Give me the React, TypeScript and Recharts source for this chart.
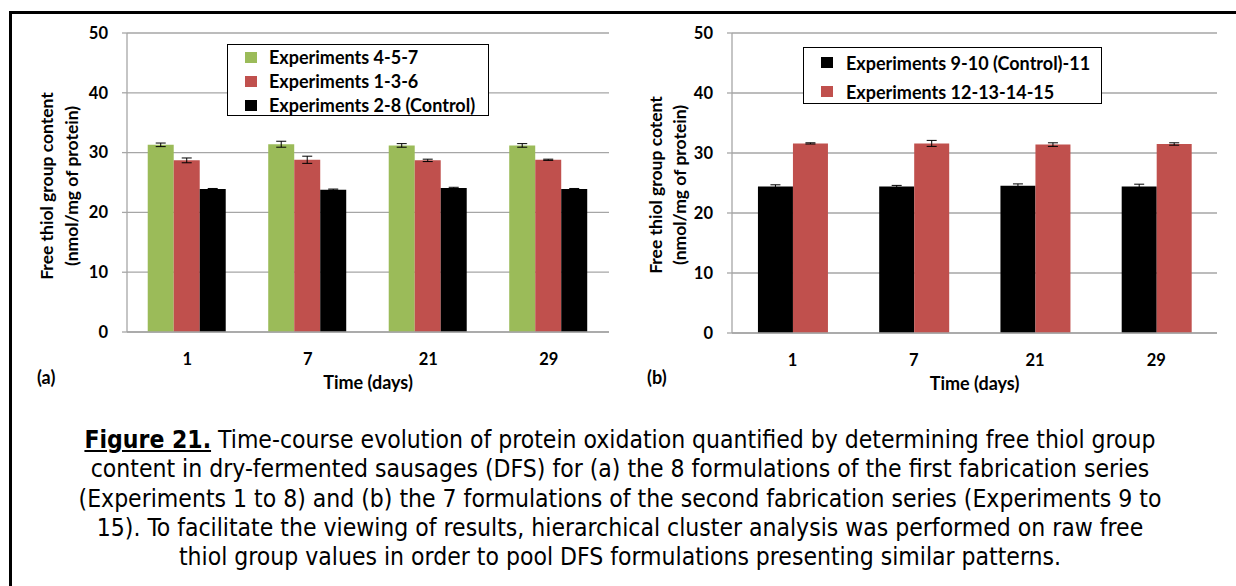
import { BarChart, Bar, XAxis, YAxis, CartesianGrid, ErrorBar } from "recharts";

const days = ["1", "7", "21", "29"];

// panel (a)
const exp457 = [31.3, 31.4, 31.2, 31.2];
const exp457Err = [0.3, 0.5, 0.3, 0.3];
const exp136 = [28.7, 28.8, 28.7, 28.8];
const exp136Err = [0.4, 0.6, 0.2, 0.1];
const exp28 = [23.9, 23.8, 24.1, 23.9];
const exp28Err = [0.1, 0.1, 0.1, 0.1];

// panel (b)
const exp91011 = [24.4, 24.4, 24.55, 24.4];
const exp91011Err = [0.3, 0.2, 0.3, 0.4];
const exp12to15 = [31.6, 31.6, 31.4, 31.5];
const exp12to15Err = [0.1, 0.5, 0.3, 0.2];

const yTicks = [0, 10, 20, 30, 40, 50];

const captionLines = [
  "Time-course evolution of protein oxidation quantified by determining free thiol group",
  "content in dry-fermented sausages (DFS) for (a) the 8 formulations of the first fabrication series",
  "(Experiments 1 to 8) and (b) the 7 formulations of the second fabrication series (Experiments 9 to",
  "15). To facilitate the viewing of results, hierarchical cluster analysis was performed on raw free",
  "thiol group values in order to pool DFS formulations presenting similar patterns.",
];

const GREEN = "#9bbb59";
const RED = "#c0504d";
const BLACK = "#000000";
const GRID = "#a6a6a6";
const FONT = "Lato, 'Liberation Sans', sans-serif";

const dataA = days.map((d, i) => ({
  day: d,
  g: exp457[i], gErr: exp457Err[i],
  r: exp136[i], rErr: exp136Err[i],
  k: exp28[i], kErr: exp28Err[i],
}));

const dataB = days.map((d, i) => ({
  day: d,
  k: exp91011[i], kErr: exp91011Err[i],
  r: exp12to15[i], rErr: exp12to15Err[i],
}));

const tickStyle = { fontFamily: FONT, fontWeight: 700, fontSize: 16.5, fill: "#000" };
const labelStyle = { fontFamily: FONT, fontWeight: 700, fontSize: 18, fill: "#000" };

function yLabel(x1: number, x2: number, cy: number, line1: string) {
  const st = { ...labelStyle, fontSize: 17.5 };
  return () => (
    <g>
      <text x={x1} y={cy} transform={`rotate(-90 ${x1} ${cy})`} textAnchor="middle" dominantBaseline="central"
        style={st}>{line1}</text>
      <text x={x2} y={cy} transform={`rotate(-90 ${x2} ${cy})`} textAnchor="middle" dominantBaseline="central"
        style={st}>(nmol/mg of protein)</text>
    </g>
  );
}

function LegendBox({ items, left, top, w, h, pl, gap, rowH }: any) {
  return (
    <div style={{
      position: "absolute", left, top, width: w, height: h, border: "1px solid #000", boxSizing: "border-box",
      background: "#fff", fontFamily: FONT, fontWeight: 700, fontSize: 18,
    }}>
      {items.map((it: any) => (
        <div key={it.label} style={{ display: "flex", alignItems: "center", height: rowH, paddingLeft: pl, whiteSpace: "nowrap" }}>
          <span style={{ display: "inline-block", width: 12, height: 11, background: it.color, marginRight: gap }} />
          <span>{it.label}</span>
        </div>
      ))}
    </div>
  );
}

export default function App() {
  return (
    <div style={{ position: "absolute", left: 0, top: 0, width: 1236, height: 586, overflow: "hidden", background: "#fff" }}>
      <div style={{ position: "absolute", left: 9, top: 11, width: 1240, height: 620, border: "3px solid #000", boxSizing: "border-box" }} />

      {/* panel (a) */}
      <div style={{ position: "absolute", left: 0, top: 0 }}>
        <BarChart width={620} height={400} data={dataA} margin={{ top: 33, right: 11, bottom: 38, left: 67 }}
          barGap={0} barCategoryGap="17.2%">
          <CartesianGrid vertical={false} stroke={GRID} strokeWidth={1.3} />
          <XAxis dataKey="day" height={30} tick={tickStyle} tickLine={false} axisLine={{ stroke: GRID, strokeWidth: 1.3 }}
            tickMargin={15}
            label={{ value: "Time (days)", position: "insideBottom", offset: -27, style: labelStyle }} />
          <YAxis width={60} domain={[0, 50]} ticks={yTicks} tick={tickStyle} tickSize={5} tickMargin={14}
            tickLine={{ stroke: GRID, strokeWidth: 1.3 }} axisLine={{ stroke: GRID, strokeWidth: 1.3 }}
            label={{ content: yLabel(46, 71, 186, "Free thiol group content") }} />
          <Bar dataKey="g" fill={GREEN} isAnimationActive={false}>
            <ErrorBar dataKey="gErr" width={5} stroke="#000" strokeWidth={1} direction="y" />
          </Bar>
          <Bar dataKey="r" fill={RED} isAnimationActive={false}>
            <ErrorBar dataKey="rErr" width={5} stroke="#000" strokeWidth={1} direction="y" />
          </Bar>
          <Bar dataKey="k" fill={BLACK} isAnimationActive={false}>
            <ErrorBar dataKey="kErr" width={5} stroke="#000" strokeWidth={1} direction="y" />
          </Bar>
        </BarChart>
      </div>
      <LegendBox left={227} top={44} w={262} h={72} pl={17} gap={12} rowH={24} items={[
        { label: "Experiments 4-5-7", color: GREEN },
        { label: "Experiments 1-3-6", color: RED },
        { label: "Experiments 2-8 (Control)", color: BLACK },
      ]} />
      <div style={{ position: "absolute", left: 37, top: 366, ...labelStyle, color: "#000" }}>(a)</div>

      {/* panel (b) */}
      <div style={{ position: "absolute", left: 620, top: 0 }}>
        <BarChart width={616} height={400} data={dataB} margin={{ top: 33, right: 19, bottom: 37, left: 52 }}
          barGap={0} barCategoryGap="21.4%">
          <CartesianGrid vertical={false} stroke={GRID} strokeWidth={1.3} />
          <XAxis dataKey="day" height={30} tick={tickStyle} tickLine={false} axisLine={{ stroke: GRID, strokeWidth: 1.3 }}
            tickMargin={15}
            label={{ value: "Time (days)", position: "insideBottom", offset: -27, style: labelStyle }} />
          <YAxis width={60} domain={[0, 50]} ticks={yTicks} tick={tickStyle} tickSize={5} tickMargin={14}
            tickLine={{ stroke: GRID, strokeWidth: 1.3 }} axisLine={{ stroke: GRID, strokeWidth: 1.3 }}
            label={{ content: yLabel(35, 59, 185, "Free thiol group cotent") }} />
          <Bar dataKey="k" fill={BLACK} isAnimationActive={false}>
            <ErrorBar dataKey="kErr" width={5} stroke="#000" strokeWidth={1} direction="y" />
          </Bar>
          <Bar dataKey="r" fill={RED} isAnimationActive={false}>
            <ErrorBar dataKey="rErr" width={5} stroke="#000" strokeWidth={1} direction="y" />
          </Bar>
        </BarChart>
      </div>
      <LegendBox left={803} top={47} w={299} h={57} pl={17} gap={13} rowH={29} items={[
        { label: "Experiments 9-10 (Control)-11", color: BLACK },
        { label: "Experiments 12-13-14-15", color: RED },
      ]} />
      <div style={{ position: "absolute", left: 647, top: 366, ...labelStyle, color: "#000" }}>(b)</div>

      {/* caption */}
      <div style={{
        position: "absolute", left: 0, top: 425, width: 1240, textAlign: "center",
        fontFamily: "'DejaVu Sans Condensed', 'DejaVu Sans', sans-serif", fontSize: 24.5, lineHeight: "29.3px", color: "#000",
      }}>
        {captionLines.map((line, i) => (
          <div key={i}>
            {i === 0 && <span style={{ fontWeight: 700, textDecoration: "underline" }}>Figure 21.</span>}
            {i === 0 ? " " : ""}{line}
          </div>
        ))}
      </div>
    </div>
  );
}
